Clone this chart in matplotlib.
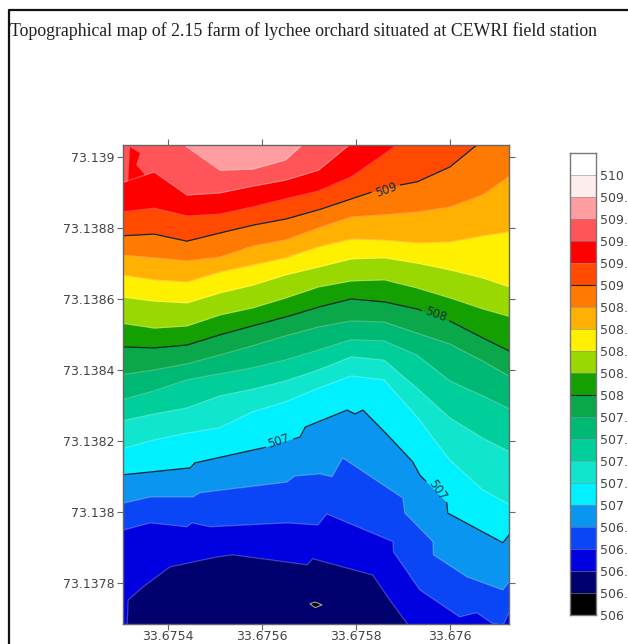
#!/usr/bin/env python3
"""Topographical contour map of the lychee orchard, with its stepped colour key."""

import matplotlib

matplotlib.use("Agg")
import matplotlib.pyplot as plt
import numpy as np
from matplotlib.lines import Line2D

TITLE = "Topographical map of 2.15 farm of lychee orchard situated at CEWRI field station"

# longitudes and latitudes are kept in millionths above these two bases
LON_BASE = 33.67
LAT_BASE = 73.13

# longitude stations shared by the upper contour lines
X_STATIONS = [5300, 5370, 5440, 5510, 5580, 5650, 5720, 5790, 5860, 5930, 6000, 6070, 6140]

# the lower contours have sharper bends, so they carry their own longitudes
X506_4 = [5300, 5313, 5315, 5347, 5404, 5504, 5538, 5696, 5708, 5836, 5872, 5908, 5932, 6143]
C506_4 = [7639, 7687, 7752, 7789, 7845, 7873, 7879, 7851, 7868, 7822, 7752, 7687, 7639, 7583]
X506_6 = [5300, 5362, 5440, 5451, 5489, 5653, 5719, 5738, 5879, 5880, 5936, 6021, 6057, 6089,
          6113, 6126, 6143]
C506_6 = [7947, 7969, 7958, 7969, 7958, 7969, 7963, 7994, 7916, 7887, 7780, 7704, 7716, 7687,
          7679, 7716, 7752]
X506_8 = [5300, 5362, 5453, 5468, 5653, 5670, 5723, 5749, 5772, 5900, 5904, 5964, 5965, 6036,
          6113, 6126, 6143]
C506_8 = [8023, 8042, 8042, 8054, 8084, 8101, 8107, 8099, 8152, 8039, 7997, 7916, 7879, 7817,
          7780, 7803, 7814]
X507_0 = [5300, 5447, 5457, 5504, 5611, 5681, 5692, 5781, 5798, 5815, 5857, 5921, 5936, 5994,
          5995, 6113, 6126, 6143]
C507_0 = [8104, 8124, 8138, 8152, 8183, 8211, 8239, 8287, 8276, 8287, 8231, 8141, 8104, 8025,
          7997, 7913, 7935, 7949]

C507_2 = [8177, 8203, 8222, 8237, 8282, 8310, 8349, 8383, 8372, 8268, 8146, 8062, 8011]
C507_4 = [8256, 8276, 8293, 8327, 8346, 8369, 8400, 8437, 8428, 8349, 8265, 8208, 8161]
C507_6 = [8315, 8341, 8372, 8389, 8406, 8428, 8456, 8485, 8482, 8442, 8369, 8327, 8282]
C507_8 = [8386, 8400, 8417, 8442, 8468, 8496, 8521, 8538, 8535, 8504, 8473, 8425, 8372]
C508_0 = [8465, 8462, 8470, 8499, 8524, 8549, 8577, 8600, 8592, 8572, 8538, 8490, 8445]
C508_2 = [8532, 8518, 8524, 8555, 8575, 8603, 8634, 8651, 8654, 8631, 8603, 8572, 8546]
C508_4 = [8606, 8594, 8589, 8617, 8639, 8668, 8690, 8713, 8716, 8701, 8682, 8659, 8628]
C508_6 = [8668, 8654, 8648, 8676, 8696, 8716, 8747, 8769, 8766, 8758, 8761, 8778, 8792]
C508_8 = [8724, 8716, 8707, 8718, 8749, 8766, 8800, 8831, 8837, 8845, 8859, 8893, 8958]
C509_0 = [8778, 8783, 8763, 8786, 8808, 8825, 8851, 8882, 8913, 8930, 8972, 9048, 9104]
C509_2 = [8845, 8856, 8834, 8839, 8859, 8882, 8904, 8944, 9008, 9076, 9104, 9104, 9104]
C509_4 = [8927, 8958, 8893, 8899, 8918, 8935, 8963, 9039, 9104, 9104, 9104, 9104, 9104]
C509_6 = [9104, 9104, 9028, 8963, 8966, 8992, 9076, 9104, 9104, 9104, 9104, 9104, 9104]

# red sliver in the top left corner and the small low spot near the bottom
WEDGE_X = [5315, 5319, 5340, 5332, 5351]
WEDGE_Y = [8930, 9028, 9011, 8978, 8949]
PIT_X = [5702, 5713, 5728, 5713]
PIT_Y = [7741, 7746, 7738, 7730]

# colour key, bottom band first
LEVELS = [506.0, 506.2, 506.4, 506.6, 506.8, 507.0, 507.2, 507.4, 507.6, 507.8, 508.0,
          508.2, 508.4, 508.6, 508.8, 509.0, 509.2, 509.4, 509.6, 509.8, 510.0]
LEVEL_LABELS = ["506", "506.", "506.", "506.", "506.", "507", "507.", "507.", "507.", "507.",
                "508", "508.", "508.", "508.", "508.", "509", "509.", "509.", "509.", "509.",
                "510"]
BAND_COLORS = ["#000000", "#00006e", "#0000e0", "#0a46f5", "#0a96f0", "#00f0ff", "#10e6cd",
               "#00cf9c", "#00b974", "#0aa84a", "#14a000", "#99d800", "#fff000", "#ffb000",
               "#ff7a00", "#ff4a00", "#ff0000", "#ff5558", "#ff9da0", "#fdeeee", "#ffffff"]

X_TICKS = [33.6754, 33.6756, 33.6758, 33.676]
X_TICK_LABELS = ["33.6754", "33.6756", "33.6758", "33.676"]
Y_TICKS = [73.1378, 73.138, 73.1382, 73.1384, 73.1386, 73.1388, 73.139]
Y_TICK_LABELS = ["73.1378", "73.138", "73.1382", "73.1384", "73.1386", "73.1388", "73.139"]

# (text, longitude, latitude, rotation) of the labels set on the whole-number contours
LINE_LABELS = [("507", 33.675636, 73.1382, 18), ("507", 33.675974, 73.13806, -55),
               ("508", 33.67597, 73.138555, -20), ("509", 33.675864, 73.138907, 20)]

W, H = 628, 644
TEXT_COLOR = "#444444"


def to_lon(values):
    return LON_BASE + np.asarray(values) * 1e-6


def to_lat(values):
    return LAT_BASE + np.asarray(values) * 1e-6


def pixel_axes(fig, left, top, right, bottom):
    return fig.add_axes([left / W, 1 - bottom / H, (right - left) / W, (bottom - top) / H])


def gapped_line(x, y, labels):
    xs = np.linspace(x[0], x[-1], 800)
    ys = np.interp(xs, x, y)
    for _, lx, ly, rot in labels:
        near = np.hypot((xs - lx) / 0.0002 * 94, (ys - ly) / 0.0002 * 71) < 15
        ys[near] = np.nan
    return xs, ys


def draw_map(ax):
    curves = [(X506_4, C506_4), (X506_6, C506_6), (X506_8, C506_8), (X507_0, C507_0)]
    curves += [(X_STATIONS, c) for c in (C507_2, C507_4, C507_6, C507_8, C508_0, C508_2, C508_4,
                                         C508_6, C508_8, C509_0, C509_2, C509_4, C509_6)]
    bands = BAND_COLORS[2:]
    heights = LEVELS[2:]
    ax.set_facecolor(BAND_COLORS[1])
    for i, ((xs, curve), color) in enumerate(zip(curves, bands)):
        ax.fill_between(to_lon(xs), to_lat(curve), 73.14, color=color, lw=0, zorder=2 + i * 0.01)
    ax.fill(to_lon(WEDGE_X), to_lat(WEDGE_Y), color=BAND_COLORS[16], lw=0, zorder=2.5)
    ax.fill(to_lon(PIT_X), to_lat(PIT_Y), facecolor="#000000", edgecolor="#a0a0a0", lw=0.8, zorder=3)

    for (xs, curve), height in zip(curves, heights):
        if height in (507.0, 508.0, 509.0):
            labels = [lab for lab in LINE_LABELS if float(lab[0]) == height]
            gx, gy = gapped_line(to_lon(xs), to_lat(curve), labels)
            ax.plot(gx, gy, color="#0b2a30", lw=0.9, zorder=3)
        else:
            ax.plot(to_lon(xs), to_lat(curve), color="#ffffff", alpha=0.25, lw=0.9, zorder=3)
    for text, lx, ly, rot in LINE_LABELS:
        ax.text(lx, ly, text, rotation=rot, rotation_mode="anchor", ha="center", va="center",
                fontsize=8.5, color="#10304a", zorder=4)

    ax.set_xlim(33.675304, 33.676126)
    ax.set_ylim(73.137684, 73.139034)
    ax.set_xticks(X_TICKS, X_TICK_LABELS)
    ax.set_yticks(Y_TICKS, Y_TICK_LABELS)
    ax.tick_params(top=True, right=True, length=4, width=0.8, color="#666666",
                   labelsize=9, labelcolor=TEXT_COLOR)
    ax.tick_params(axis="x", pad=0.5)
    ax.tick_params(axis="y", pad=2)
    for spine in ax.spines.values():
        spine.set_color("#666666")
        spine.set_linewidth(1)
        spine.set_zorder(5)


def draw_key(ax):
    edges = LEVELS + [LEVELS[-1] + 0.2]
    ax.bar([0] * len(BAND_COLORS), np.diff(edges), 1, bottom=LEVELS, color=BAND_COLORS, lw=0)
    for level in LEVELS[1:]:
        dark = level in (508.0, 509.0)
        ax.axhline(level, color="#222222" if dark else "#8090a0", lw=0.8 if dark else 0.4)
    ax.set_xlim(-0.5, 0.5)
    ax.set_ylim(edges[0], edges[-1])
    ax.set_xticks([])
    ax.yaxis.tick_right()
    ax.set_yticks(LEVELS, LEVEL_LABELS)
    ax.tick_params(axis="y", length=0, labelsize=9, labelcolor=TEXT_COLOR, pad=3)
    for spine in ax.spines.values():
        spine.set_color("#777777")
        spine.set_linewidth(1)


def main():
    fig = plt.figure(figsize=(W / 100, H / 100), dpi=100)
    fig.text(10 / W, 1 - 31 / H, TITLE, family="Liberation Serif", fontsize=12.75,
             ha="left", va="center", color="#202020")
    fig.add_artist(Line2D([9 / W, 9 / W, 1], [0, 1 - 10 / H, 1 - 10 / H], color="#111111", lw=1.6))
    draw_map(pixel_axes(fig, 123, 145, 509, 624))
    draw_key(pixel_axes(fig, 570, 153, 596, 615))
    fig.savefig("out.png", dpi=100)


if __name__ == "__main__":
    main()
